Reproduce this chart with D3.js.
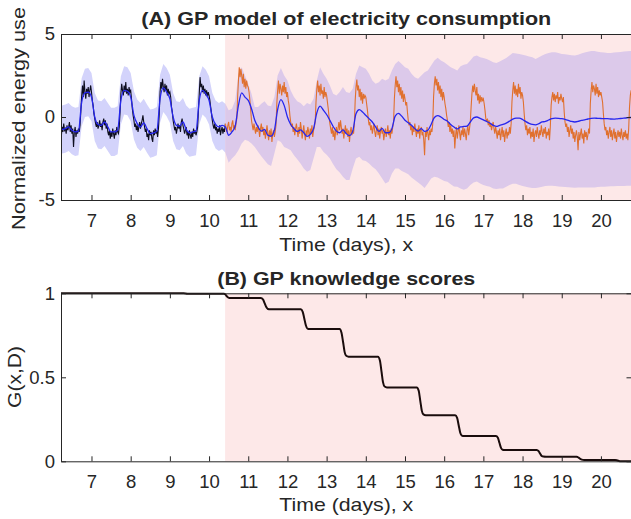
<!DOCTYPE html>
<html><head><meta charset="utf-8">
<script src="https://cdn.jsdelivr.net/npm/d3@7"></script>
<style>
body{margin:0;background:#fff}
svg{display:block}
text{font-family:"Liberation Sans",Arial,Helvetica,sans-serif;fill:#262626}
</style>
</head><body><svg id="c" width="631" height="519"></svg>
<script>
// ---------------- DATA ----------------
const xMin = 6.222, xMax = 20.78;      // axis limits (days)
const xSplit = 10.41;                  // start of forecast (shaded) region
const xTicks = [7,8,9,10,11,12,13,14,15,16,17,18,19,20];
const yTicksA = [-5,0,5];
const yTickLabelsA = ["-5","0","5"];
const yTicksB = [0,0.5,1];
const yTickLabelsB = ["0","0.5","1"];
const days = [6,7,8,9,10,11,12,13,14,15,16,17,18,19,20];

// GP posterior mean, 12 values per day (every 2 hours)
const meanByDay = [
 [1.0,-0.2,-0.6,-0.75,-0.7,-0.6,-0.8,-0.9,-0.85,0.9,1.45,1.5],
 [1.2,0.0,-0.45,-0.5,-0.3,-0.6,-0.9,-0.9,-0.8,1.0,1.6,1.55],
 [1.2,0.1,-0.4,-0.6,-0.35,-0.7,-1.0,-0.95,-0.85,1.1,1.75,1.5],
 [1.1,0.0,-0.5,-0.55,-0.3,-0.75,-0.95,-0.9,-0.85,1.0,1.6,1.4],
 [1.0,0.0,-0.45,-0.6,-0.5,-0.6,-1.1,-0.9,-0.55,0.7,1.45,1.2],
 [1.0,0.5,-0.2,-0.6,-0.85,-0.75,-1.1,-1.15,-0.8,0.45,1.05,0.7],
 [0.0,-0.45,-0.7,-0.87,-0.78,-0.95,-1.17,-1.05,-0.7,0.25,0.65,0.42],
 [0.15,-0.2,-0.57,-0.85,-0.95,-0.78,-1.0,-1.12,-0.85,0.2,0.44,0.3],
 [0.1,-0.1,-0.3,-0.6,-0.87,-0.68,-0.95,-0.95,-0.7,0.05,0.22,0.05],
 [-0.2,-0.35,-0.5,-0.7,-0.85,-0.7,-0.87,-0.8,-0.45,-0.03,0.08,0.0],
 [-0.15,-0.25,-0.45,-0.6,-0.72,-0.6,-0.57,-0.55,-0.3,-0.05,0.0,-0.08],
 [-0.17,-0.27,-0.37,-0.5,-0.57,-0.5,-0.45,-0.37,-0.25,-0.13,-0.07,-0.07],
 [-0.15,-0.28,-0.38,-0.45,-0.47,-0.4,-0.3,-0.27,-0.18,-0.1,-0.07,-0.08],
 [-0.1,-0.14,-0.2,-0.27,-0.3,-0.27,-0.2,-0.17,-0.12,-0.08,-0.07,-0.08],
 [-0.09,-0.1,-0.1,-0.12,-0.13,-0.11,-0.09,-0.07,-0.05,-0.03,-0.03,-0.03]
];
// upper edge of the uncertainty band, same grid
const upperByDay = [
 [2.45,1.25,0.85,0.7,0.75,0.85,0.65,0.55,0.6,2.35,2.9,2.95],
 [2.65,1.45,1.0,0.95,1.15,0.85,0.55,0.55,0.65,2.45,3.05,3.0],
 [2.65,1.55,1.05,0.85,1.1,0.75,0.45,0.5,0.6,2.55,3.2,2.95],
 [2.55,1.45,0.95,0.9,1.15,0.7,0.5,0.55,0.6,2.45,3.05,2.85],
 [2.45,1.45,1.0,0.85,0.95,0.8,0.4,0.5,1.0,2.6,3.0,2.5],
 [2.0,1.4,0.6,0.6,0.8,0.95,0.7,0.65,1.2,2.5,2.95,2.5],
 [2.2,1.6,1.2,0.95,0.85,0.65,0.85,0.75,1.1,2.2,3.0,2.6],
 [2.3,1.9,1.4,1.3,1.5,1.8,1.5,1.45,1.7,2.6,3.1,3.0],
 [2.9,2.6,2.2,2.0,2.1,2.3,2.2,2.3,2.8,3.2,3.37,3.2],
 [3.0,2.9,2.6,2.4,2.3,2.5,2.7,2.8,3.1,3.4,3.57,3.4],
 [3.3,3.15,3.0,2.9,2.8,3.05,3.15,3.2,3.4,3.65,3.7,3.6],
 [3.55,3.5,3.4,3.3,3.25,3.35,3.45,3.55,3.7,3.85,3.83,3.8],
 [3.75,3.7,3.65,3.6,3.5,3.6,3.7,3.8,3.85,3.9,3.9,3.85],
 [3.8,3.78,3.75,3.72,3.7,3.75,3.82,3.88,3.93,3.97,3.97,3.93],
 [3.9,3.88,3.85,3.85,3.88,3.9,3.92,3.94,3.96,3.97,3.97,3.97]
];
// lower edge of the uncertainty band, same grid
const lowerByDay = [
 [-0.45,-1.65,-2.05,-2.2,-2.15,-2.05,-2.25,-2.35,-2.3,-0.55,0.0,0.05],
 [-0.25,-1.45,-1.9,-1.95,-1.75,-2.05,-2.35,-2.35,-2.25,-0.45,0.15,0.1],
 [-0.25,-1.35,-1.85,-2.05,-1.8,-2.15,-2.45,-2.4,-2.3,-0.35,0.3,0.05],
 [-0.35,-1.45,-1.95,-2.0,-1.75,-2.2,-2.4,-2.35,-2.3,-0.45,0.15,-0.05],
 [-0.45,-1.45,-1.9,-2.05,-1.95,-2.15,-2.75,-2.5,-2.3,-2.0,-1.6,-1.37],
 [-1.45,-1.6,-1.8,-2.1,-2.37,-2.6,-2.85,-2.95,-2.2,-1.4,-1.5,-1.8],
 [-1.9,-2.0,-2.3,-2.55,-2.8,-3.1,-3.3,-3.2,-2.5,-1.8,-1.8,-2.1],
 [-2.27,-2.5,-2.85,-3.15,-3.35,-3.6,-3.8,-3.8,-3.1,-2.5,-2.4,-2.6],
 [-2.65,-2.8,-3.0,-3.15,-3.4,-3.7,-4.0,-3.9,-3.4,-3.1,-3.1,-3.25],
 [-3.35,-3.45,-3.65,-3.8,-3.95,-4.1,-4.28,-4.0,-3.7,-3.6,-3.65,-3.75],
 [-3.85,-3.9,-4.05,-4.18,-4.2,-4.3,-4.38,-4.3,-4.1,-3.95,-3.88,-4.0],
 [-4.1,-4.15,-4.2,-4.3,-4.34,-4.3,-4.3,-4.2,-4.1,-4.02,-4.02,-4.1],
 [-4.15,-4.2,-4.25,-4.28,-4.27,-4.25,-4.2,-4.15,-4.14,-4.14,-4.15,-4.18],
 [-4.2,-4.22,-4.23,-4.25,-4.26,-4.25,-4.24,-4.24,-4.24,-4.24,-4.24,-4.22],
 [-4.2,-4.2,-4.18,-4.17,-4.17,-4.16,-4.15,-4.15,-4.14,-4.14,-4.14,-4.14]
];
// observed normalized energy use, 48 values per day (every 30 minutes)
const obsByDay = [
 [1.4,1.1,0.6,0.2,-0.2,-0.5,-0.7,-0.5,-0.9,-1.1,-0.8,-1.2, -0.6,-0.9,-0.4,-0.8,-0.7,-1.0,-0.5,-0.8,-0.6,-0.3,-0.9,-0.5,
  -1.0,-0.7,-1.8,-0.9,-0.6,-1.2,-0.8,-1.0,-0.7,-0.9,-0.5,0.4, 1.3,1.9,1.2,2.2,1.5,1.1,1.7,1.4,1.8,1.2,1.6,1.9],
 [1.5,1.0,0.7,0.2,-0.1,-0.4,-0.6,-0.3,-0.7,-0.5,-0.2,-0.6, -0.4,-0.8,-0.3,-0.1,-0.5,-0.2,-0.7,-0.4,-0.9,-1.1,-0.8,-1.3,
  -0.9,-1.2,-0.7,-1.0,-1.3,-0.8,-1.1,-0.6,-0.9,-1.0,-0.6,0.3, 1.4,2.0,1.6,1.3,1.9,1.5,2.1,1.4,1.7,1.3,1.8,1.5],
 [1.6,1.1,0.5,0.1,-0.2,-0.6,-0.4,-0.8,-0.5,-0.9,-0.6,-0.3, -0.7,-0.4,-0.2,0.1,-0.3,-0.6,-0.9,-0.7,-1.2,-1.0,-1.4,-0.8,
  -1.1,-0.9,-1.3,-1.5,-0.8,-1.1,-0.7,-1.0,-0.8,-1.2,-0.7,0.2, 1.5,2.1,1.7,2.3,1.8,1.5,2.0,1.6,1.9,1.3,1.7,1.4],
 [1.5,1.2,0.6,0.3,-0.2,-0.5,-0.8,-0.6,-1.0,-0.7,-0.4,-0.7, -0.5,-0.9,-0.3,-0.1,-0.5,-0.7,-1.0,-0.8,-0.6,-1.1,-0.9,-1.3,
  -0.8,-1.1,-1.3,-0.9,-1.2,-0.7,-1.0,-0.8,-1.1,-0.9,-0.6,0.4, 1.4,2.4,1.8,2.0,1.5,1.9,1.4,1.7,1.3,1.6,1.2,1.5],
 [1.3,1.0,0.6,0.2,-0.2,-0.5,-0.7,-0.4,-0.8,-0.6,-1.0,-0.7, -0.9,-0.5,-1.1,-0.8,-0.6,-1.0,-0.7,-0.9,-0.4,-0.7,-0.9,-0.5,
  -0.3,-0.8,-0.6,-0.9,-0.4,-0.2,-0.7,-0.5,-0.8,-0.4,-0.1,1.2, 2.2,3.0,2.4,2.9,2.5,2.0,2.6,1.8,2.3,1.7,2.2,1.9],
 [1.8,1.5,1.0,0.4,-0.2,-0.5,-0.8,-0.4,-0.7,-1.0,-0.6,-0.9, -0.5,-0.8,-1.2,-0.7,-0.4,-0.9,-0.6,-1.1,-0.8,-1.3,-0.9,-0.5,
  -1.0,-1.4,-0.8,-1.2,-0.7,-1.5,-1.0,-0.8,-1.2,-0.9,-0.5,0.8, 1.6,2.2,1.4,2.0,1.7,1.3,1.9,1.5,2.1,1.4,1.8,1.2],
 [1.5,1.0,0.7,0.1,-0.3,-0.6,-0.4,-0.9,-0.6,-1.1,-0.7,-0.4, -0.8,-1.2,-0.6,-1.0,-0.3,-0.7,-1.3,-0.9,-0.5,-1.0,-1.4,-0.8,
  -1.1,-0.6,-0.9,-1.3,-0.7,-1.0,-0.5,-1.2,-0.8,-0.6,-0.3,0.9, 1.7,2.2,1.5,1.9,1.3,2.0,1.4,1.6,1.1,1.8,1.2,1.5],
 [1.3,0.9,0.5,0.0,-0.4,-0.7,-1.0,-0.6,-1.2,-0.8,-1.4,-0.9, -0.6,-1.1,-0.7,-0.3,-0.8,-0.2,-0.6,-1.0,-0.7,-1.3,-0.9,-0.5,
  -1.0,-0.7,-1.2,-0.8,-1.5,-0.9,-0.6,-1.1,-0.8,-1.0,-0.4,1.0, 1.8,2.25,1.6,1.9,1.2,1.7,1.0,1.5,0.8,1.4,1.1,1.3],
 [1.2,0.8,0.4,-0.1,-0.5,-0.3,-0.8,-0.5,-1.0,-0.7,-0.4,-0.9, -1.2,-0.8,-0.5,-1.1,-0.7,-1.3,-0.9,-0.6,-1.0,-0.8,-1.4,-1.0,
  -0.7,-1.2,-0.9,-0.5,-1.1,-0.8,-1.3,-0.7,-1.0,-0.6,-0.3,1.1, 1.9,2.45,1.8,2.2,1.5,2.0,1.3,1.8,1.1,1.6,0.9,1.4],
 [1.1,0.7,0.9,0.3,-0.2,-0.5,-0.3,-0.8,-0.5,-1.1,-0.6,-0.9, -0.4,-0.8,-1.2,-0.7,-1.0,-0.5,-1.3,-0.8,-0.6,-1.1,-0.9,-1.4,
  -2.3,-0.9,-1.2,-0.6,-1.0,-1.4,-0.8,-1.1,-0.7,-0.9,-0.4,1.2, 2.0,2.45,1.9,2.3,1.6,2.1,1.4,1.9,1.2,1.7,1.0,1.5],
 [1.2,0.8,0.5,0.1,-0.2,-0.6,-0.3,-0.9,-0.5,-1.0,-0.7,-1.2, -0.8,-1.9,-1.1,-0.6,-1.3,-0.9,-0.5,-1.0,-1.4,-0.8,-1.1,-0.6,
  -1.2,-0.7,-1.0,-1.4,-0.8,-0.5,-1.1,-0.7,-0.3,0.6,1.4,1.9, 1.5,2.0,1.6,1.3,1.8,1.0,1.4,0.8,1.3,0.9,1.2,1.0],
 [1.1,0.8,0.4,-0.1,-0.3,-0.1,-0.5,-0.2,-0.6,-0.4,-0.8,-0.5, -0.3,-0.7,-1.0,-0.6,-0.9,-1.3,-0.8,-1.1,-0.7,-1.4,-1.0,-0.6,
  -1.2,-0.8,-1.5,-1.0,-0.7,-1.3,-0.9,-1.1,-0.6,-1.0,-0.4,0.9, 1.6,2.1,1.4,1.9,1.3,1.7,1.2,2.0,1.4,1.8,1.1,1.5],
 [1.3,0.9,0.2,-0.4,-0.8,-0.5,-1.1,-0.7,-1.0,-0.6,-1.3,-0.9, -1.2,-0.7,-1.5,-1.0,-0.8,-1.2,-0.6,-1.0,-1.3,-0.8,-1.1,-0.5,
  -0.9,-1.2,-0.7,-1.0,-0.6,-1.3,-0.9,-1.1,-0.7,-1.4,-0.6,0.7, 1.2,1.5,1.0,1.4,0.9,1.3,1.1,1.5,0.8,1.2,1.0,1.4],
 [1.1,0.9,1.2,0.3,-0.3,-0.6,-0.4,-0.9,-0.6,-1.2,-0.8,-0.5, -1.0,-0.7,-1.3,-0.9,-1.5,-1.1,-0.8,-1.2,-2.0,-0.9,-1.4,-1.0,
  -0.7,-1.3,-1.0,-1.6,-0.8,-1.2,-0.9,-1.4,-1.1,-0.7,-1.0,0.8, 1.6,2.1,1.5,1.9,1.7,1.3,2.0,1.4,1.8,1.2,1.6,1.3],
 [1.5,1.2,0.9,0.2,-0.4,-0.8,-0.6,-1.1,-0.8,-1.3,-0.9,-0.6, -1.2,-0.8,-1.4,-1.0,-0.7,-1.3,-0.9,-1.5,-1.1,-0.8,-1.2,-0.9,
  -1.3,-0.7,-1.1,-1.4,-0.9,-1.2,-0.8,-1.3,-1.0,-1.4,-0.7,0.6, 1.3,1.6,1.2,1.5,1.1,1.4,1.0,1.3,1.2,1.5,1.1,1.4]
];
// GP knowledge score G(x,D)
const gX = [6.2,9.35,9.45,10.38,10.42,10.46,10.52,11.32,11.38,11.42,11.46,11.5,11.56,12.34,12.39,12.43,12.47,12.51,12.57,
  13.33,13.38,13.42,13.46,13.5,13.56,14.31,14.36,14.4,14.44,14.48,14.54,15.3,15.35,15.39,15.43,15.47,15.53,
  16.28,16.33,16.37,16.41,16.45,16.51,17.32,17.37,17.41,17.45,17.49,17.55,18.36,18.41,18.45,18.49,18.53,18.6,
  19.38,19.43,19.47,19.51,19.57,20.36,20.42,20.48,20.8];
const gY = [1,1,0.998,0.998,0.992,0.98,0.972,0.972,0.962,0.94,0.918,0.907,0.905,0.905,0.89,0.85,0.81,0.79,0.787,
  0.787,0.765,0.71,0.65,0.628,0.623,0.623,0.6,0.535,0.47,0.445,0.44,0.44,0.42,0.36,0.3,0.279,0.274,
  0.274,0.258,0.215,0.17,0.153,0.15,0.15,0.14,0.11,0.08,0.069,0.067,0.067,0.06,0.045,0.032,0.028,0.027,
  0.027,0.022,0.015,0.01,0.008,0.008,0.005,0.001,0];

// ---------------- BUILD ----------------
const gpGrid = days.flatMap((d,i)=>meanByDay[i].map((m,k)=>({x:d+k/12, m, hi:upperByDay[i][k], lo:lowerByDay[i][k]})));
const obs = days.flatMap((d,i)=>obsByDay[i].map((v,k)=>({x:d+k/48, y:v})));
const gData = gX.map((x,i)=>({x, y:gY[i]}));

const svg = d3.select('#c');
const L = 61, R = 631.5;
const x = d3.scaleLinear().domain([xMin,xMax]).range([L,R]);
const A = {top:34, bottom:200};
const B = {top:293.3, bottom:461.3};
const yA = d3.scaleLinear().domain([-5,5]).range([A.bottom,A.top]);
const yB = d3.scaleLinear().domain([0,1]).range([B.bottom,B.top]);

const defs = svg.append('defs');
defs.append('clipPath').attr('id','clipA').append('rect').attr('x',L).attr('y',A.top).attr('width',R-L).attr('height',A.bottom-A.top);
defs.append('clipPath').attr('id','clipTrain').append('rect').attr('x',L).attr('y',A.top).attr('width',x(xSplit)-L).attr('height',A.bottom-A.top);
defs.append('clipPath').attr('id','clipTest').append('rect').attr('x',x(xSplit)).attr('y',A.top).attr('width',R-x(xSplit)).attr('height',A.bottom-A.top);
defs.append('clipPath').attr('id','clipB').append('rect').attr('x',L).attr('y',B.top-2).attr('width',R-L).attr('height',B.bottom-B.top+4);

// Panel A
const gA = svg.append('g');
gA.append('rect').attr('x',x(xSplit)).attr('y',A.top).attr('width',R-x(xSplit)).attr('height',A.bottom-A.top).attr('fill','#fde8e8');
const area = d3.area().x(d=>x(d.x)).y0(d=>yA(d.lo)).y1(d=>yA(d.hi)).curve(d3.curveLinear);
gA.append('path').datum(gpGrid).attr('d',area).attr('fill','#d3d3fb').attr('clip-path','url(#clipTrain)');
gA.append('path').datum(gpGrid).attr('d',area).attr('fill','#dcc9ea').attr('clip-path','url(#clipTest)');
const obsLine = d3.line().x(d=>x(d.x)).y(d=>yA(d.y));
gA.append('path').datum(obs).attr('d',obsLine).attr('fill','none').attr('stroke','#0e0e20').attr('stroke-width',1.1).attr('clip-path','url(#clipTrain)');
gA.append('path').datum(obs).attr('d',obsLine).attr('fill','none').attr('stroke','#e0702e').attr('stroke-width',1.1).attr('clip-path','url(#clipTest)');
const meanLine = d3.line().x(d=>x(d.x)).y(d=>yA(d.m)).curve(d3.curveMonotoneX);
gA.append('path').datum(gpGrid).attr('d',meanLine).attr('fill','none').attr('stroke','#2626ee').attr('stroke-width',1.3).attr('clip-path','url(#clipA)');

// Panel B
const gB = svg.append('g');
gB.append('rect').attr('x',x(xSplit)).attr('y',B.top).attr('width',R-x(xSplit)).attr('height',B.bottom-B.top).attr('fill','#fde8e8');
gB.append('path').datum(gData).attr('d',d3.line().x(d=>x(d.x)).y(d=>yB(d.y)).curve(d3.curveMonotoneX))
  .attr('fill','none').attr('stroke','#1a0c0c').attr('stroke-width',2).attr('clip-path','url(#clipB)');

// Axes
function axes(top,bottom,y,yTicks,yFmt){
  const g = svg.append('g');
  g.append('g').attr('transform',`translate(0,${bottom})`)
    .call(d3.axisBottom(x).tickValues(xTicks).tickSize(-5).tickSizeOuter(0).tickPadding(14).tickFormat(d3.format('d')));
  g.append('g').attr('transform',`translate(0,${top})`)
    .call(d3.axisTop(x).tickValues(xTicks).tickSize(-5).tickSizeOuter(0).tickFormat(''));
  g.append('g').attr('transform',`translate(${L},0)`)
    .call(d3.axisLeft(y).tickValues(yTicks).tickSize(-5).tickSizeOuter(0).tickPadding(6).tickFormat((d,i)=>yFmt[i]));
  g.append('g').attr('transform',`translate(${R},0)`)
    .call(d3.axisRight(y).tickValues(yTicks).tickSize(-5).tickSizeOuter(0).tickFormat(''));
  g.selectAll('.domain').attr('stroke','#262626');
  g.selectAll('.tick line').attr('stroke','#262626');
  g.selectAll('text').attr('font-size',18.5).attr('font-family','"Liberation Sans",Arial,sans-serif').attr('fill','#262626');
  return g;
}
axes(A.top,A.bottom,yA,yTicksA,yTickLabelsA);
axes(B.top,B.bottom,yB,yTicksB,yTickLabelsB);

// Titles & labels
const cx = (L+R)/2;
function label(txt,tx,ty,rot,size,len,bold,fill){
  const t = svg.append('text').attr('transform',`translate(${tx},${ty})${rot?' rotate(-90)':''}`)
    .attr('text-anchor','middle').attr('font-size',size).attr('fill',fill||'#262626')
    .attr('textLength',len).attr('lengthAdjust','spacingAndGlyphs').text(txt);
  if(bold) t.attr('font-weight','bold');
}
label('(A) GP model of electricity consumption',cx,25,false,18.5,410,true,'#000');
label('(B) GP knowledge scores',cx,285,false,18.5,258,true,'#000');
label('Time (days), x',cx,251,false,19,134);
label('Time (days), x',cx,511,false,19,134);
label('Normalized energy use',25,118.5,true,19,223);
label('G(x,D)',21,377,true,19,62);
</script>
</body></html>
